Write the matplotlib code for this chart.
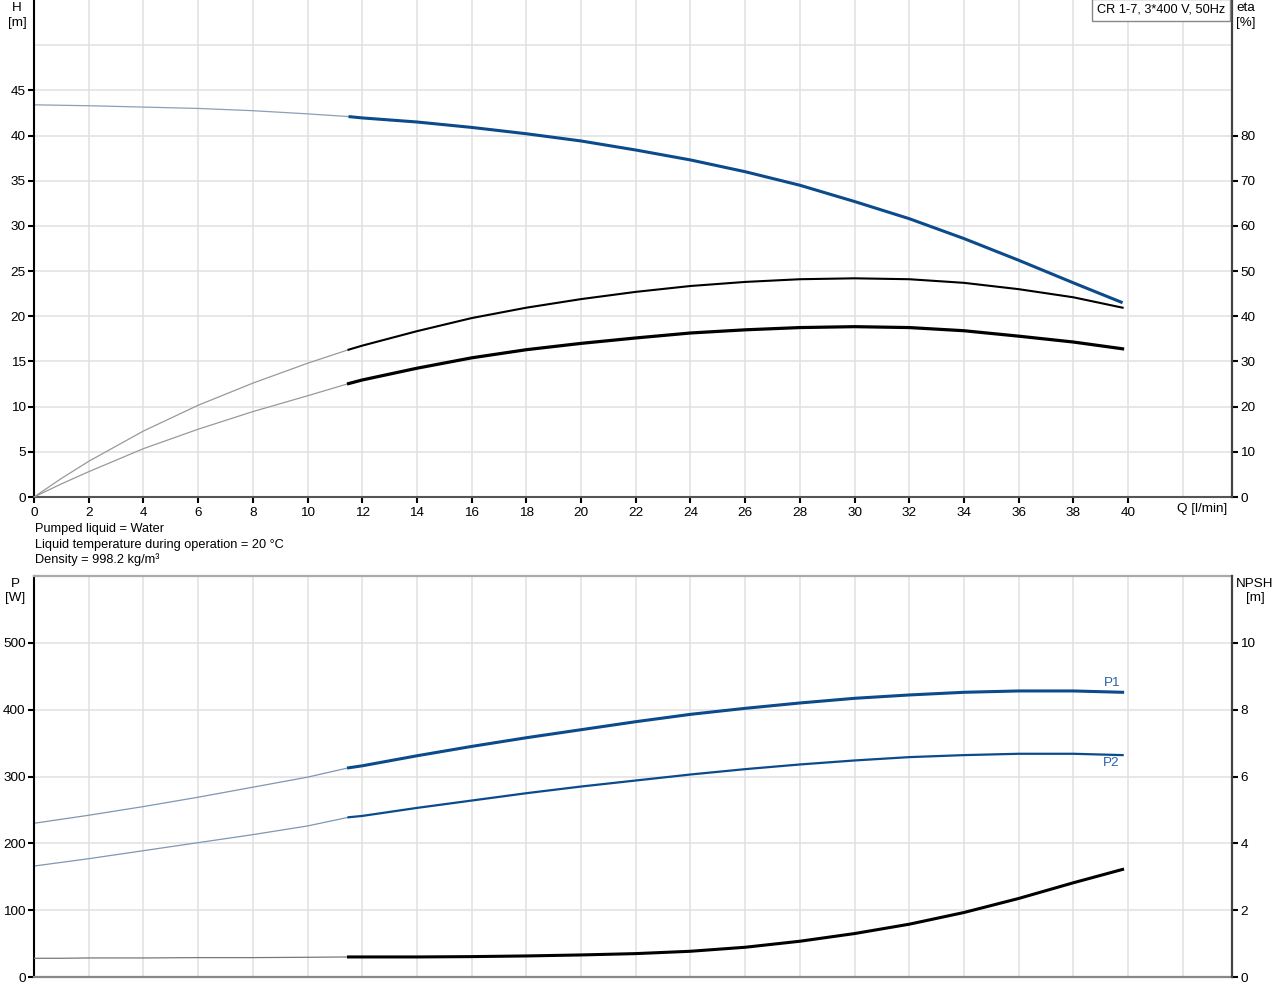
import matplotlib
matplotlib.use("Agg")
import matplotlib.pyplot as plt

plt.rcParams['font.family'] = ['Liberation Sans', 'DejaVu Sans']

# flow points, thin (outside operating range) and thick part
q_thin = [0, 1, 2, 4, 6, 8, 10, 11.5]
q_thick = [11.5, 12, 14, 16, 18, 20, 22, 24, 26, 28, 30, 32, 34, 36, 38, 39.8]

# head [m]
h_thin = [43.4, 43.35, 43.3, 43.15, 43.0, 42.75, 42.4, 42.1]
h_thick = [42.1, 41.95, 41.5, 40.9, 40.2, 39.4, 38.4, 37.3, 36.0, 34.5, 32.7, 30.8, 28.6, 26.2, 23.7, 21.5]

# efficiencies [%]
eta_pump_thin = [0, 4.1, 7.9, 14.6, 20.3, 25.2, 29.6, 32.6]
eta_pump_thick = [32.6, 33.5, 36.7, 39.6, 41.9, 43.8, 45.4, 46.7, 47.6, 48.2, 48.4, 48.2, 47.4, 46.0, 44.2, 41.9]
eta_tot_thin = [0, 2.9, 5.6, 10.7, 15.0, 18.9, 22.4, 25.1]
eta_tot_thick = [25.1, 25.9, 28.5, 30.8, 32.6, 34.0, 35.2, 36.3, 37.0, 37.5, 37.7, 37.5, 36.8, 35.6, 34.3, 32.8]

# power [W]
p1_thin = [230, 236, 242, 255, 269, 284, 299, 313]
p1_thick = [313, 316, 331, 345, 358, 370, 382, 393, 402, 410, 417, 422, 426, 428, 428, 426]
p2_thin = [166, 171.5, 177, 189, 201, 213, 226, 239]
p2_thick = [239, 241, 253, 264, 275, 285, 294, 303, 311, 318, 324, 329, 332, 334, 334, 332]

# NPSH [m]
npsh_thin = [0.56, 0.56, 0.57, 0.57, 0.58, 0.58, 0.59, 0.6]
npsh_thick = [0.6, 0.6, 0.6, 0.61, 0.63, 0.66, 0.7, 0.77, 0.89, 1.07, 1.30, 1.58, 1.93, 2.35, 2.82, 3.22]

x_ticks = list(range(0, 42, 2))
x_grid = list(range(0, 44, 2))
h_ticks = [0, 5, 10, 15, 20, 25, 30, 35, 40, 45]
eta_ticks = [0, 10, 20, 30, 40, 50, 60, 70, 80]
p_ticks = [0, 100, 200, 300, 400, 500]
npsh_ticks = [0, 2, 4, 6, 8, 10]

BLUE = '#0b4a8b'
GRID = '#e0e0e0'
FS = 9.2     # notes / box text
TFS = 9.7    # tick labels
W, H = 1280, 996


def style_axes(ax, right):
    ax.set_xlim(0, 43.8)
    for g in x_grid:
        ax.axvline(g, color=GRID, lw=1.1, zorder=0)
    ax.spines['left'].set_color('black')
    ax.spines['left'].set_linewidth(1.5)
    ax.tick_params(axis='y', length=4, width=1.5, labelsize=TFS, pad=2)
    right.spines['right'].set_color('#444444')
    right.spines['right'].set_linewidth(1.6)
    right.tick_params(axis='y', length=4, width=1.5, labelsize=TFS, pad=2)
    for s in ['left', 'top', 'bottom']:
        right.spines[s].set_visible(False)


fig = plt.figure(figsize=(12.8, 9.96), dpi=100)

# ---- top chart: head and efficiency
ax = fig.add_axes([34 / W, 1 - 497 / H, 1198 / W, 497 / H])
ax2 = ax.twinx()
ax.set_ylim(0, 55)
ax2.set_ylim(0, 110)
style_axes(ax, ax2)
for g in [5, 10, 15, 20, 25, 30, 35, 40, 45, 50]:
    ax.axhline(g, color=GRID, lw=1.1, zorder=0)
ax.spines['top'].set_visible(False)
ax.spines['right'].set_visible(False)
ax.spines['bottom'].set_color('#555555')
ax.spines['bottom'].set_linewidth(1.5)
ax.set_xticks(x_ticks)
ax.set_yticks(h_ticks)
ax.tick_params(axis='x', length=4, width=1.5, labelsize=TFS, pad=3)
ax2.set_yticks(eta_ticks)

ax.plot(q_thin, h_thin, color='#8aa0b8', lw=0.9)
ax.plot(q_thick, h_thick, color=BLUE, lw=2.2, solid_capstyle='butt')
ax2.plot(q_thin, eta_pump_thin, color='#999999', lw=0.9)
ax2.plot(q_thick, eta_pump_thick, color='black', lw=1.5)
ax2.plot(q_thin, eta_tot_thin, color='#999999', lw=0.9)
ax2.plot(q_thick, eta_tot_thick, color='black', lw=2.3)

ax.text((1202 - 34) / 1198, -12 / 497, 'Q [l/min]', transform=ax.transAxes,
        ha='center', va='center', fontsize=TFS)

# ---- bottom chart: power and NPSH
bx = fig.add_axes([34 / W, 1 - 977 / H, 1198 / W, 401 / H])
bx2 = bx.twinx()
bx.set_ylim(0, 600)
bx2.set_ylim(0, 12)
style_axes(bx, bx2)
for g in [100, 200, 300, 400, 500]:
    bx.axhline(g, color=GRID, lw=1.1, zorder=0)
bx.spines['right'].set_visible(False)
bx.spines['top'].set_color('#aaaaaa')
bx.spines['top'].set_linewidth(1.6)
bx.spines['bottom'].set_color('#888888')
bx.spines['bottom'].set_linewidth(1.6)
bx.set_xticks([])
bx.set_yticks(p_ticks)
bx2.set_yticks(npsh_ticks)

bx.plot(q_thin, p1_thin, color='#7f97b3', lw=0.9)
bx.plot(q_thick, p1_thick, color=BLUE, lw=2.2)
bx.plot(q_thin, p2_thin, color='#7f97b3', lw=0.9)
bx.plot(q_thick, p2_thick, color=BLUE, lw=1.6)
bx2.plot(q_thin, npsh_thin, color='#777777', lw=0.9)
bx2.plot(q_thick, npsh_thick, color='black', lw=2.2)

bx.text(39.4, 440, 'P1', color='#2a62a8', fontsize=TFS, ha='center', va='center')
bx.text(39.4, 320, 'P2', color='#2a62a8', fontsize=TFS, ha='center', va='center')

# ---- axis titles and notes
fig.text(17 / W, 1 - 15.5 / H, 'H\n[m]', ha='center', va='center', fontsize=TFS, linespacing=1.3)
fig.text(1246 / W, 1 - 15.5 / H, 'eta\n[%]', ha='center', va='center', fontsize=TFS, linespacing=1.3)
fig.text(15 / W, 1 - 591 / H, 'P\n[W]', ha='center', va='center', fontsize=TFS, linespacing=1.3)
fig.text(1255 / W, 1 - 591 / H, 'NPSH\n[m]', ha='center', va='center', fontsize=TFS, linespacing=1.3)

fig.text(1225 / W, 1 - 10 / H, 'CR 1-7, 3*400 V, 50Hz', ha='right', va='center', fontsize=FS,
         bbox=dict(boxstyle='square,pad=0.4', fc='white', ec='#888888', lw=1))

notes = ['Pumped liquid = Water',
         'Liquid temperature during operation = 20 °C',
         'Density = 998.2 kg/m³']
for i, line in enumerate(notes):
    fig.text(35 / W, 1 - (529 + 15.5 * i) / H, line, ha='left', va='center', fontsize=FS)

fig.savefig('out.png', dpi=100)
